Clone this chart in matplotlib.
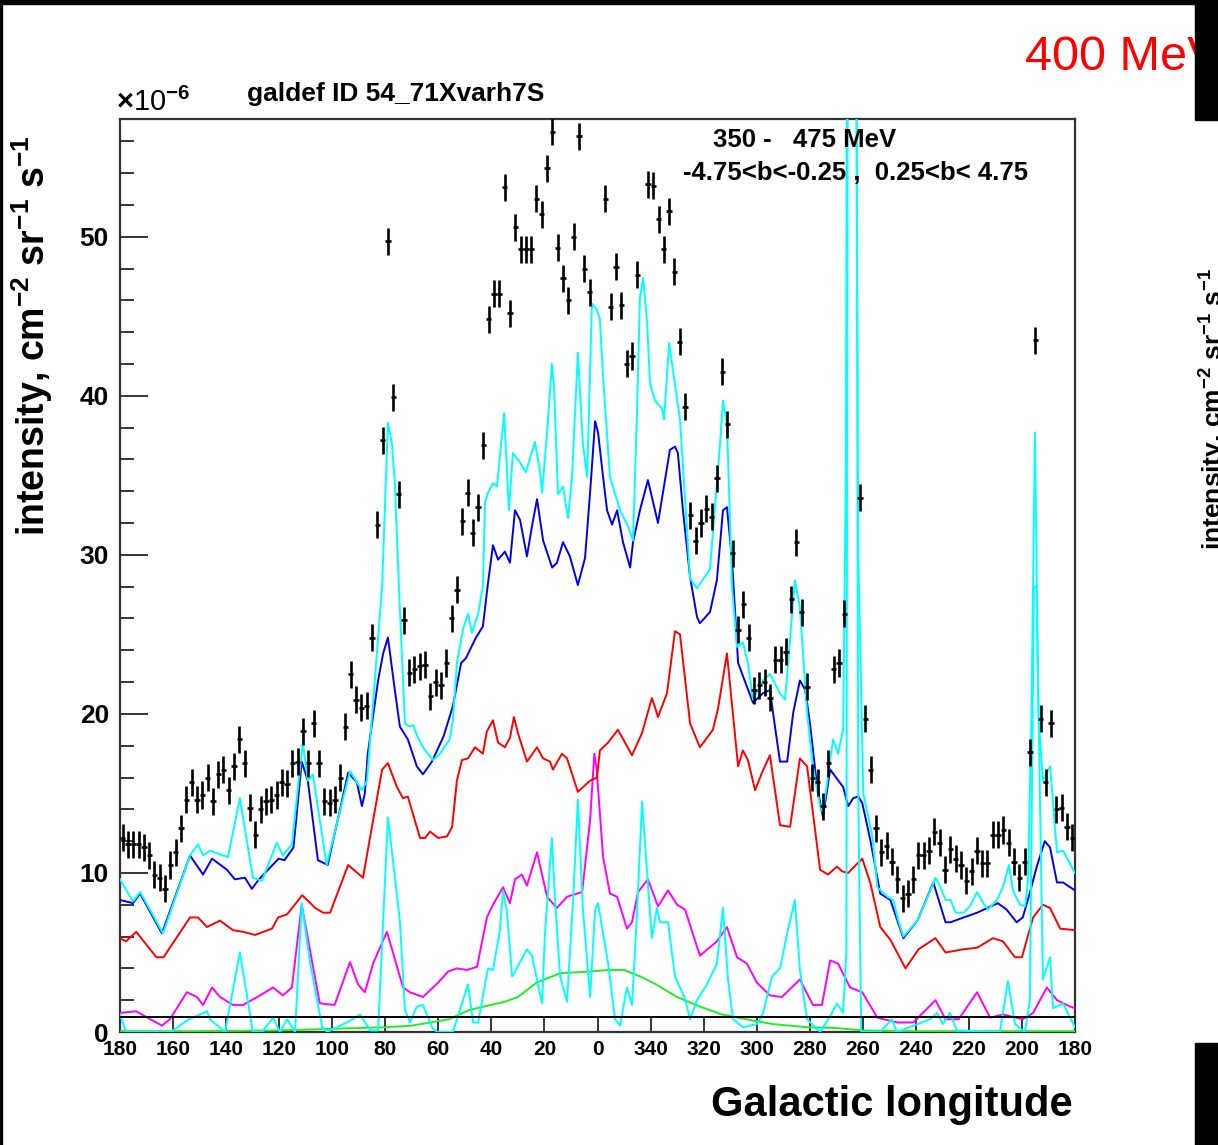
import numpy as np
import matplotlib
matplotlib.use("Agg")
import matplotlib.pyplot as plt
from matplotlib.patches import Rectangle

plt.rcParams['font.family'] = ['Liberation Sans', 'DejaVu Sans']
plt.rcParams['mathtext.fontset'] = 'custom'
plt.rcParams['mathtext.rm'] = 'Liberation Sans:bold'
plt.rcParams['mathtext.bf'] = 'Liberation Sans:bold'
plt.rcParams['mathtext.default'] = 'bf'

# ---- data (intensity in 1e-6 cm^-2 sr^-1 s^-1), longitude signed: 180 .. -180
data_lon = np.arange(179, -180, -2)
data_val = [
    12.2, 11.8, 11.8, 11.8, 11.6, 11.1, 9.9, 9.7, 9.0, 10.5,
    11.3, 12.8, 14.6, 15.7, 14.6, 14.9, 16.0, 14.5, 16.2, 16.5,
    15.2, 16.7, 18.4, 16.9, 14.1, 12.4, 14.0, 14.5, 14.6, 14.9,
    15.7, 15.6, 16.9, 17.0, 18.9, 16.9, 19.4, 16.9, 14.5, 14.4,
    14.6, 16.0, 19.2, 22.5, 20.9, 20.4, 20.5, 24.8, 31.9, 37.2,
    49.7, 39.9, 33.8, 25.9, 22.6, 22.8, 23.0, 23.1, 21.1, 22.0,
    21.8, 23.2, 26.0, 27.8, 32.1, 33.9, 31.4, 33.0, 36.9, 44.8,
    46.4, 46.4, 53.1, 45.2, 50.6, 49.2, 49.2, 49.2, 52.4, 51.4,
    54.3, 56.6, 49.3, 47.4, 46.0, 50.0, 56.3, 48.0, 46.5, np.nan,
    np.nan, 52.4, 45.6, 48.1, 45.7, 42.0, 42.5, 47.6, np.nan, 53.3,
    53.2, 51.1, 49.2, 51.6, 47.8, 43.4, 39.3, 32.5, 30.9, 32.0,
    32.9, 32.4, 34.8, 41.5, 38.2, 30.1, 25.3, 26.9, 24.8, 21.5,
    21.8, 22.0, 21.0, 23.4, 23.4, 23.9, 27.2, 30.8, 26.4, 21.7,
    16.0, 15.7, 14.2, 16.9, 22.8, 23.2, 26.3, np.nan, np.nan, 33.6,
    19.7, 16.5, 12.8, 11.3, 11.7, 10.7, 9.6, 8.4, 8.7, 9.6,
    11.1, 11.1, 11.4, 12.6, 11.9, 10.2, 11.5, 10.9, 10.5, 9.5,
    10.1, 11.4, 10.6, 10.6, 12.4, 12.4, 12.7, 11.9, 10.7, 9.7,
    10.7, 17.6, 43.5, 19.7, 15.7, 19.4, 14.0, 14.1, 12.9, 12.2,
]
data_err = 0.85

# model components, (longitude, intensity) vertices
total = [
    (180, 9.6), (175.1, 8.2), (172.4, 8.8), (163.8, 6.2), (153.6, 11.1), (150.6, 11.8),
    (148.7, 11.1), (146.1, 11.4), (141.2, 11.1), (139.3, 11.0), (134.8, 14.7), (129.9, 9.7),
    (126.5, 9.5), (120.9, 11.9), (118.6, 11.1), (115.2, 11.8), (111.1, 18.2), (109.2, 15.8),
    (107.3, 16.2), (102.1, 10.5), (93.3, 16.4), (88.8, 15.2), (86.9, 15.8), (81.2, 28.0),
    (79.0, 38.3), (77.5, 37.0), (76.4, 34.5), (74.8, 27.8), (72.6, 19.4), (70.7, 19.2),
    (69.5, 19.3), (67.7, 18.5), (65.0, 17.7), (62.0, 17.1), (59.4, 17.5), (55.7, 18.4),
    (54.5, 19.6), (53.0, 23.2), (50.7, 25.3), (48.8, 26.3), (47.3, 25.1), (45.0, 26.3),
    (43.2, 28.0), (42.4, 33.3), (41.3, 33.9), (39.4, 34.5), (37.9, 34.3), (35.2, 38.9),
    (33.4, 32.8), (31.9, 36.4), (29.2, 35.8), (27.0, 35.2), (23.6, 37.1), (21.7, 35.3),
    (20.9, 33.9), (19.0, 37.7), (17.2, 42.0), (16.4, 40.6), (14.9, 33.8), (13.0, 34.3),
    (11.1, 32.3), (9.6, 34.9), (7.4, 42.7), (5.5, 37.0), (3.9, 34.9), (2.1, 45.8),
    (0.2, 45.4), (-0.9, 44.8), (-2.1, 41.2), (-4.7, 34.9), (-8.5, 32.8), (-11.5, 31.8),
    (-13.4, 30.9), (-14.9, 39.1), (-16.0, 46.2), (-17.2, 47.4), (-18.7, 44.6), (-19.8, 40.8),
    (-21.7, 39.7), (-24.3, 39.2), (-25.1, 38.5), (-27.0, 43.3), (-28.8, 41.2), (-31.1, 38.5),
    (-34.9, 28.5), (-37.5, 27.9), (-42.4, 29.1), (-46.2, 37.0), (-47.3, 39.7), (-48.8, 38.3),
    (-50.7, 28.0), (-52.6, 24.2), (-54.8, 24.5), (-56.7, 23.2), (-58.6, 20.9), (-62.4, 22.1),
    (-65.0, 22.5), (-68.8, 21.3), (-70.7, 20.9), (-72.6, 24.7), (-74.4, 28.4), (-76.3, 26.7),
    (-79.0, 20.1), (-81.2, 16.7), (-83.9, 14.2), (-85.0, 13.8), (-87.7, 17.1), (-88.8, 18.4),
    (-90.7, 17.5), (-92.6, 19.0), (-93.6, 35.0), (-94.5, 90.0), (-97.0, 90.0), (-98.3, 30.0),
    (-100.2, 15.0), (-103.6, 12.3), (-105.5, 9.1), (-109.3, 8.5), (-111.5, 8.3), (-113.4, 7.0),
    (-115.3, 6.0), (-120.6, 7.0), (-125.5, 8.9), (-127.4, 9.7), (-129.3, 9.1), (-131.2, 8.3),
    (-133.1, 8.3), (-135.0, 7.5), (-138.0, 7.5), (-140.4, 7.9), (-143.1, 8.8), (-145.4, 8.1),
    (-147.2, 7.7), (-150.6, 8.3), (-152.8, 9.1), (-155.1, 10.5), (-156.6, 8.9), (-159.3, 8.0),
    (-161.2, 7.9), (-162.3, 9.6), (-163.6, 20.0), (-164.9, 37.7), (-166.2, 20.0), (-167.9, 15.8),
    (-170.6, 16.7), (-173.2, 11.3), (-175.5, 11.4), (-178.1, 10.6), (-180, 10.0),
]
blue_line = [
    (180, 8.3), (175.1, 8.1), (172.4, 8.7), (164.2, 6.2), (153.6, 11.1), (148.7, 9.9),
    (145.3, 10.9), (139.7, 10.2), (136.7, 9.6), (132.9, 9.7), (130.3, 9.0), (127.6, 9.6),
    (120.2, 10.9), (118.0, 10.8), (114.6, 11.6), (111.5, 17.0), (109.2, 15.8), (105.4, 10.8),
    (101.7, 10.5), (94.0, 16.3), (90.7, 15.7), (88.8, 14.2), (87.7, 15.0), (86.6, 17.5),
    (82.7, 22.1), (80.8, 23.8), (79.0, 24.8), (76.4, 21.5), (74.5, 19.2), (71.5, 18.4),
    (68.1, 16.7), (65.8, 16.2), (62.4, 17.0), (58.0, 18.6), (54.5, 20.5), (51.4, 23.2),
    (49.6, 23.5), (45.8, 24.8), (43.2, 25.5), (41.3, 28.2), (39.4, 30.6), (37.5, 29.7),
    (34.9, 30.2), (33.0, 29.5), (31.1, 32.8), (29.2, 32.2), (26.6, 29.9), (24.7, 31.8),
    (22.8, 33.5), (20.5, 30.9), (17.1, 29.2), (15.3, 29.5), (13.0, 30.8), (10.4, 29.9),
    (7.4, 28.1), (4.7, 29.8), (2.8, 33.9), (0.9, 38.4), (-0.2, 37.7), (-2.1, 34.9),
    (-3.6, 32.8), (-5.5, 31.9), (-7.4, 32.8), (-9.6, 30.8), (-12.3, 29.2), (-13.4, 30.8),
    (-16.0, 32.8), (-19.0, 34.7), (-22.8, 32.0), (-27.3, 36.6), (-29.2, 36.8), (-30.3, 36.4),
    (-32.2, 32.8), (-34.9, 28.6), (-37.5, 26.1), (-38.6, 25.7), (-42.4, 26.4), (-45.0, 28.4),
    (-47.3, 32.8), (-48.8, 33.0), (-50.7, 29.7), (-53.0, 23.2), (-58.6, 20.7), (-62.4, 21.3),
    (-65.0, 21.5), (-66.9, 19.2), (-68.8, 17.0), (-71.5, 17.0), (-73.8, 20.1), (-76.3, 22.1),
    (-78.3, 21.5), (-80.1, 19.4), (-82.8, 15.4), (-85.0, 13.5), (-87.7, 16.5), (-92.6, 15.4),
    (-94.5, 14.2), (-96.4, 14.7), (-98.3, 14.8), (-99.8, 14.4), (-102.8, 12.1), (-106.6, 8.7),
    (-110.4, 8.3), (-115.3, 5.9), (-120.6, 7.0), (-126.6, 9.4), (-131.2, 6.9), (-133.1, 6.9),
    (-138.0, 7.2), (-143.1, 7.5), (-150.9, 8.1), (-154.2, 7.7), (-158.0, 6.9), (-160.3, 7.2),
    (-162.9, 8.7), (-165.6, 10.4), (-168.6, 12.0), (-170.6, 11.6), (-173.2, 9.4), (-175.5, 9.4),
    (-180, 8.9),
]
red_line = [
    (180, 5.9), (177.7, 5.7), (173.9, 6.3), (166.3, 4.7), (163.6, 4.7), (153.6, 7.2),
    (150.6, 7.2), (147.2, 6.6), (142.3, 7.0), (137.4, 6.4), (133.6, 6.3), (129.1, 6.1),
    (122.7, 6.5), (120.4, 7.2), (117.0, 7.4), (111.3, 8.6), (106.4, 7.8), (103.4, 7.5),
    (100.8, 7.5), (94.0, 10.5), (88.4, 9.7), (84.6, 13.3), (81.2, 16.5), (79.0, 16.9),
    (75.6, 15.4), (73.3, 14.7), (71.5, 14.8), (66.9, 12.2), (65.0, 12.2), (63.1, 12.6),
    (60.1, 12.2), (56.7, 12.3), (54.8, 12.9), (53.0, 15.8), (51.1, 17.1), (48.8, 17.2),
    (46.2, 17.9), (43.2, 17.5), (41.7, 18.9), (39.4, 19.6), (37.5, 18.2), (34.9, 17.9),
    (33.0, 18.5), (31.5, 19.8), (30.0, 18.8), (26.6, 17.0), (22.8, 17.9), (20.5, 17.2),
    (17.9, 17.0), (16.8, 16.5), (13.4, 17.5), (11.5, 17.2), (7.4, 15.1), (2.8, 15.8),
    (0.2, 16.0), (-0.9, 17.7), (-4.0, 18.2), (-7.7, 19.0), (-13.0, 17.4), (-16.8, 18.8),
    (-20.5, 21.0), (-21.7, 20.4), (-22.8, 19.8), (-26.2, 21.3), (-29.2, 25.2), (-31.1, 25.0),
    (-34.9, 19.4), (-38.6, 17.9), (-43.5, 19.0), (-45.4, 20.3), (-48.8, 23.8), (-53.0, 16.7),
    (-54.8, 17.7), (-56.7, 17.1), (-59.4, 15.2), (-62.0, 16.3), (-65.0, 17.4), (-68.8, 13.0),
    (-72.6, 12.9), (-76.3, 17.2), (-79.0, 16.7), (-83.9, 10.2), (-86.9, 9.9), (-90.3, 10.4),
    (-92.2, 10.1), (-94.5, 10.0), (-99.8, 10.9), (-102.8, 9.4), (-106.6, 6.6), (-110.4, 5.8),
    (-116.1, 4.0), (-121.0, 5.2), (-127.4, 5.9), (-131.2, 5.0), (-138.0, 5.2), (-143.1, 5.3),
    (-149.1, 5.9), (-152.8, 5.7), (-157.4, 4.7), (-160.0, 4.7), (-164.2, 7.2), (-167.9, 8.0),
    (-170.6, 7.8), (-174.4, 6.5), (-180, 6.4),
]
magenta_line = [
    (180, 1.2), (173.9, 1.3), (169.6, 0.9), (164.2, 0.4), (161.2, 0.8), (154.8, 2.5),
    (151.0, 2.2), (148.7, 1.7), (145.3, 2.8), (142.3, 2.2), (137.4, 1.7), (133.6, 1.7),
    (127.2, 2.3), (122.3, 2.8), (118.6, 2.3), (115.2, 2.8), (111.5, 8.0), (104.7, 1.8),
    (99.1, 1.7), (93.3, 4.4), (90.3, 3.0), (87.7, 2.5), (84.6, 4.3), (79.4, 6.3),
    (77.1, 5.0), (73.3, 2.8), (70.7, 2.5), (65.8, 2.2), (60.1, 3.1), (56.3, 3.8),
    (53.0, 4.0), (49.2, 3.9), (45.4, 4.1), (41.7, 7.2), (39.4, 8.0), (35.6, 9.1),
    (33.0, 8.1), (31.1, 9.6), (28.5, 9.9), (26.6, 9.2), (22.8, 11.3), (19.0, 8.5),
    (15.3, 7.8), (11.5, 8.5), (5.8, 8.8), (2.8, 13.3), (1.2, 17.5), (0.3, 16.5),
    (-2.1, 11.0), (-4.7, 8.7), (-7.4, 8.5), (-11.1, 6.5), (-13.0, 6.9), (-15.3, 8.8),
    (-19.0, 9.6), (-22.8, 7.9), (-26.6, 8.9), (-30.0, 8.0), (-33.0, 7.7), (-38.6, 4.8),
    (-45.0, 5.7), (-48.8, 6.6), (-52.6, 4.7), (-56.3, 4.3), (-60.1, 3.1), (-65.0, 2.3),
    (-69.5, 2.2), (-76.3, 3.3), (-81.2, 1.7), (-84.6, 1.7), (-87.7, 4.5), (-90.7, 4.3),
    (-95.2, 2.8), (-99.8, 2.5), (-105.5, 0.9), (-113.0, 0.6), (-119.1, 0.6), (-127.4, 2.0),
    (-131.2, 0.8), (-136.1, 0.8), (-143.1, 2.5), (-148.0, 0.9), (-152.8, 1.1), (-160.3, 0.8),
    (-164.2, 1.2), (-169.4, 2.8), (-173.2, 2.0), (-178.1, 1.6), (-180, 1.5),
]
sources_line = [
    (180, 1.1), (177.7, 0.0), (161.0, 0.0), (154.0, 0.8), (147.1, 1.3), (146.1, 0.8),
    (140.4, 0.0), (134.8, 5.0), (129.9, 0.0), (126.5, 0.0), (122.3, 0.9), (119.7, 0.0),
    (117.0, 0.8), (114.0, 0.0), (111.5, 8.1), (108.5, 4.5), (103.8, 0.3), (101.9, 0.0),
    (93.3, 0.7), (89.5, 1.1), (85.7, 0.1), (82.7, 0.1), (80.8, 7.0), (79.0, 13.5),
    (74.5, 7.0), (72.6, 1.4), (70.7, 0.6), (68.1, 1.6), (65.8, 1.7), (62.4, 0.3),
    (60.5, 0.0), (54.5, 0.0), (48.8, 3.0), (46.9, 0.6), (45.0, 0.6), (41.3, 4.0),
    (39.4, 3.9), (36.8, 6.4), (35.6, 8.9), (34.1, 7.5), (32.2, 3.5), (31.1, 3.8),
    (26.6, 5.2), (24.7, 4.8), (20.9, 1.8), (19.8, 6.2), (17.2, 12.2), (16.0, 8.3),
    (14.1, 3.5), (11.5, 1.9), (9.2, 8.3), (7.4, 14.6), (5.5, 7.7), (2.8, 2.2),
    (0.9, 7.7), (-0.2, 8.1), (-4.0, 4.3), (-6.6, 0.8), (-8.5, 0.4), (-11.1, 2.8),
    (-13.0, 1.7), (-14.9, 7.5), (-16.8, 14.5), (-18.7, 10.0), (-20.5, 5.9), (-22.4, 7.8),
    (-23.6, 6.9), (-26.6, 6.9), (-29.2, 3.5), (-33.0, 2.1), (-34.9, 0.8), (-37.5, 2.0),
    (-41.3, 3.0), (-45.0, 4.3), (-47.3, 7.8), (-49.2, 3.3), (-51.1, 0.8), (-54.8, 0.3),
    (-60.1, 0.5), (-62.4, 1.2), (-65.8, 3.5), (-68.8, 4.0), (-71.5, 6.2), (-74.4, 8.3),
    (-76.3, 3.9), (-79.0, 0.8), (-83.9, 0.0), (-87.7, 1.0), (-90.3, 1.8), (-92.6, 1.2),
    (-93.8, 5.0), (-94.5, 80.0), (-97.3, 80.0), (-98.3, 15.0), (-99.4, 0.0), (-106.5, 0.0),
    (-111.0, 0.8), (-112.9, 0.0), (-125.3, 0.8), (-128.0, 1.2), (-130.2, 0.5), (-132.8, 1.2),
    (-135.5, 0.1), (-151.7, 0.0), (-154.7, 3.2), (-157.4, 0.5), (-161.1, 0.0), (-163.0, 2.0),
    (-164.5, 28.0), (-165.5, 28.0), (-167.9, 3.3), (-170.6, 4.7), (-171.7, 1.5), (-175.5, 1.8),
    (-180, 0.3),
]
green_line = [
    (180, 0.05), (150, 0.05), (120, 0.1), (100, 0.2), (80, 0.3), (70, 0.4), (56, 0.8),
    (48, 1.4), (35, 1.9), (30, 2.2), (23, 3.1), (14, 3.7), (3, 3.8), (-4, 3.9), (-10, 3.9),
    (-16, 3.5), (-22, 3.0), (-30, 2.2), (-38.6, 1.6), (-47, 1.1), (-56, 0.8), (-66, 0.5),
    (-79, 0.3), (-90, 0.25), (-100, 0.1), (-113, 0.05), (-180, 0.05),
]
isotropic = 0.95

tick_lon = list(range(180, -181, -20))
tick_txt = [str(t if t >= 0 else t + 360) for t in tick_lon]

W, H = 1218, 1145
fig = plt.figure(figsize=(W / 100, H / 100), dpi=100)
ax = fig.add_axes([120 / W, 1 - 1032 / H, (1075 - 120) / W, (1032 - 119) / H])


def fxy(x, y):
    return x / W, 1 - y / H


lw = 1.4
for pts, col in [(green_line, '#22ee22'), (magenta_line, '#ff00ff'), (red_line, '#ff0000'),
                 (blue_line, '#0000ee'), (sources_line, '#00ffff'), (total, '#00ffff')]:
    a = np.array(pts)
    ax.plot(a[:, 0], a[:, 1], color=col, lw=lw, zorder=3)
ax.axhline(isotropic, color='black', lw=1.4, zorder=3)
ax.errorbar(data_lon, data_val, xerr=1.0, yerr=data_err, fmt='none',
            ecolor='black', elinewidth=1.9, capsize=0, zorder=4)

ax.set_xlim(180, -180)
ax.set_ylim(0, 57.4)
ax.set_xticks(tick_lon)
ax.set_xticklabels(tick_txt)
ax.set_yticks(range(0, 51, 10))
ax.set_yticks(range(0, 57, 2), minor=True)
ax.tick_params(axis='x', direction='in', length=11, width=1.1, pad=6,
               labelsize=15, top=False)
ax.tick_params(axis='y', which='major', direction='in', length=20, width=1.1, pad=8,
               labelsize=19, right=False)
ax.tick_params(axis='y', which='minor', direction='in', length=10, width=1.1, right=False)
for lab in ax.get_xticklabels() + ax.get_yticklabels():
    lab.set_fontweight('bold')
for s in ax.spines.values():
    s.set_linewidth(1.6)
    s.set_color('#333333')

# labels and annotations
fig.text(*fxy(32, 135), r'intensity, cm$^{-2}$ sr$^{-1}$ s$^{-1}$', rotation=90,
         ha='center', va='top', fontsize=27, fontweight='bold')
fig.text(*fxy(1073, 1105), 'Galactic longitude', ha='right', va='center',
         fontsize=30, fontweight='bold')
fig.text(*fxy(116, 102), r'$\times$10$^{-6}$', ha='left', va='center', fontsize=21)
fig.text(*fxy(247, 94), 'galdef ID 54_71Xvarh7S', ha='left', va='center',
         fontsize=19, fontweight='bold')
fig.text(*fxy(713, 140), '350 -   475 MeV', ha='left', va='center',
         fontsize=18.5, fontweight='bold')
fig.text(*fxy(683, 173), '-4.75<b<-0.25 ,  0.25<b< 4.75', ha='left', va='center',
         fontsize=18.5, fontweight='bold')
fig.text(*fxy(1025, 58), '400 MeV', ha='left', va='center', fontsize=35, color='#ff0000')
fig.text(*fxy(1198, 550), r'intensity, cm$^{-2}$ sr$^{-1}$ s$^{-1}$', rotation=90,
         ha='left', va='bottom', fontsize=19, fontweight='bold')

# black borders of the screenshot
for (x0, y0, x1, y1) in [(0, 0, W, 4), (0, 0, 2, H), (1195, 0, W, 120), (1195, 1043, W, H)]:
    fig.patches.append(Rectangle((x0 / W, 1 - y1 / H), (x1 - x0) / W, (y1 - y0) / H,
                                 transform=fig.transFigure, color='black', zorder=10))

fig.savefig('out.png', dpi=100)
